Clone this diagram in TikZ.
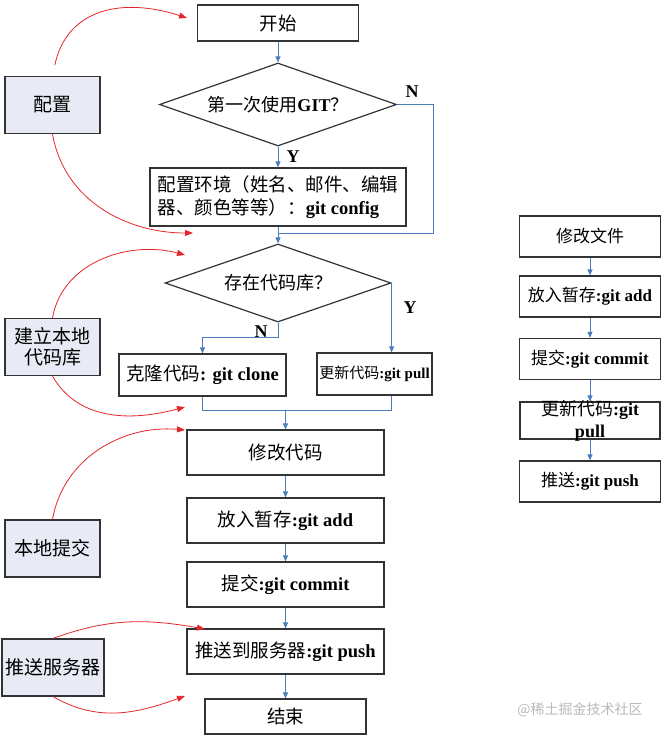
\documentclass[tikz,border=0pt]{standalone}
\usepackage{fontspec}
\setmainfont{Liberation Serif}
\newfontfamily\cjk{Noto Sans CJK SC}
\usetikzlibrary{shapes.geometric,arrows.meta}
\newcommand\gitcmd[1]{{\rmfamily\bfseries #1}}
\colorlet{box edge}{black!80}
\definecolor{phase area}{HTML}{E8EBF5}
\definecolor{flow blue}{HTML}{4A7EBB}
\definecolor{phase red}{HTML}{E3262B}
\tikzset{
  zh/.style={font=\cjk\fontsize{18.5}{23}\selectfont},
  outline/.style={draw=box edge, line width=1.2pt}
  }
\tikzstyle{step box} = [rectangle, outline, zh, minimum width=197pt, minimum height=45pt, inner sep=0pt]
\tikzstyle{phase box} = [rectangle, outline, fill=phase area, font=\cjk\fontsize{19}{21}\selectfont, minimum height=57pt, align=center, inner sep=0pt]
\tikzstyle{decision} = [diamond, outline, font=\cjk\fontsize{18}{22}\selectfont, aspect=2.8, inner sep=0pt]
\tikzstyle{side box} = [rectangle, outline, font=\cjk\fontsize{17}{21}\selectfont, minimum width=141pt, minimum height=41pt, inner sep=0pt]
\tikzstyle{flow line} = [draw, flow blue, line width=0.9pt]
\tikzstyle{flow edge} = [flow line, -{Triangle[length=6pt,width=5pt]}]
\tikzstyle{phase edge} = [draw, phase red, line width=0.8pt, -{Triangle[length=8pt,width=6pt]}]
\tikzstyle{answer} = [font=\bfseries\fontsize{18}{18}\selectfont, inner sep=0pt]
\def\mainsteps{{(285.5,-452.5)/modify/修改代码}, {(285.5,-520.5)/add/放入暂存\gitcmd{:git add}}, {(285.5,-584.5)/commit/提交\gitcmd{:git commit}}, {(285.5,-651.5)/push/推送到服务器\gitcmd{:git push}}}
\def\phases{{(52.5,-105)/lcfg/95/配置}, {(52.5,-347)/lrepo/95/建立本地\\代码库}, {(52.5,-548.5)/lcommit/95/本地提交}, {(53,-667.5)/lpush/102/推送服务器}}
\def\sidesteps{{(590,-236.5)/rmod/修改文件}, {(590,-296.5)/radd/放入暂存\gitcmd{:git add}}, {(590,-359)/rcommit/提交\gitcmd{:git commit}}, {(590,-481.5)/rpush/推送\gitcmd{:git push}}}

\begin{document}
\begin{tikzpicture}[x=1pt,y=1pt]
    \useasboundingbox (0,0) rectangle (662,-737);

    % The first part: configuration and repository
    \node[step box, minimum width=161pt, minimum height=36pt] (start) at (278,-23) {开始};
    \node[decision, minimum width=237pt, minimum height=83pt] (first) at (278,-104.5) {第一次使用\gitcmd{GIT}？};
    \node[step box, minimum width=256pt, minimum height=58pt, align=left] (config) at (278,-197) {配置环境（姓名、邮件、编辑\\器、颜色等等）：\gitcmd{git config}};
    \node[decision, minimum width=226pt, minimum height=78pt] (second) at (278,-283) {存在代码库？};
    \node[step box, minimum width=167pt, minimum height=42pt] (clone) at (202.5,-375) {克隆代码\gitcmd{: git clone}};
    \node[step box, minimum width=115pt, minimum height=42pt, font=\cjk\fontsize{15}{18}\selectfont] (update) at (374.5,-374) {更新代码\gitcmd{:git pull}};

    % The working steps
    \foreach \pos/\name/\txt in \mainsteps
      \node[step box] (\name) at \pos {\txt};
    \node[step box, minimum width=161pt, minimum height=35pt] (finish) at (285.5,-716.5) {结束};

    % The phases on the left
    \foreach \pos/\name/\boxw/\txt in \phases
      \node[phase box, minimum width=\boxw pt] (\name) at \pos {\txt};

    % The short list on the right
    \foreach \pos/\name/\txt in \sidesteps
      \node[side box] (\name) at \pos {\txt};
    \node[side box, minimum width=140pt, minimum height=37pt] (rpull) at (590,-420.5) {};
    \node[font=\cjk\fontsize{18}{22}\selectfont, align=center, inner sep=0pt] (rpulltext) at (rpull) {更新代码\gitcmd{:git}\\\gitcmd{pull}};

    % Yes and no
    \node[answer] (n1) at (412,-92) {N};
    \node[answer] (y1) at (293,-157) {Y};
    \node[answer] (n2) at (261,-332) {N};
    \node[answer] (y2) at (410,-308) {Y};

    % The straight connections
    \foreach \source/\sink in {start/first, first/config, config/second, modify/add, add/commit, commit/push, push/finish, rmod/radd, radd/rcommit, rcommit/rpull, rpull/rpush}
      \path[flow edge] (\source) -- (\sink);

    % The branches
    \coordinate (join) at (278,-233);
    \coordinate (nturn) at (433,-233);
    \coordinate (merge) at (285.5,-410);
    \path[flow line] (first.east) -| (nturn) -- (join);
    \path[flow edge] (second.south) -- ++(0,-15) -| (clone.north);
    \path[flow edge] (second.east) -- (second.east |- update.north);
    \path[flow line] (clone.south) |- (second.east |- merge) -- (second.east |- update.south);
    \path[flow edge] (merge) -- (modify);

    % The phases point at their steps
    \coordinate (cfgin) at (187,-18);
    \coordinate (cfgout) at (193,-233);
    \coordinate (repoin) at (185,-255);
    \coordinate (repoout) at (185,-407);
    \coordinate (commitin) at (185,-430);
    \coordinate (pushin) at (205,-629);
    \coordinate (pushout) at (185,-696);
    \path[phase edge, shorten <=11pt] (lcfg.north) to[out=78,in=162,looseness=1.2] (cfgin);
    \path[phase edge] (lcfg.south) to[out=-80,in=180] (cfgout);
    \path[phase edge] (lrepo.north) to[out=80,in=165] (repoin);
    \path[phase edge] (lrepo.south) to[out=-60,in=195] (repoout);
    \path[phase edge] (lcommit.north) to[out=80,in=175] (commitin);
    \path[phase edge] (lpush.north) to[out=20,in=170] (pushin);
    \path[phase edge] (lpush.south) to[out=-30,in=200] (pushout);

    \node[font=\cjk\fontsize{14}{14}\selectfont, text=gray!55] (mark) at (580,-710) {@稀土掘金技术社区};
\end{tikzpicture}
\end{document}
